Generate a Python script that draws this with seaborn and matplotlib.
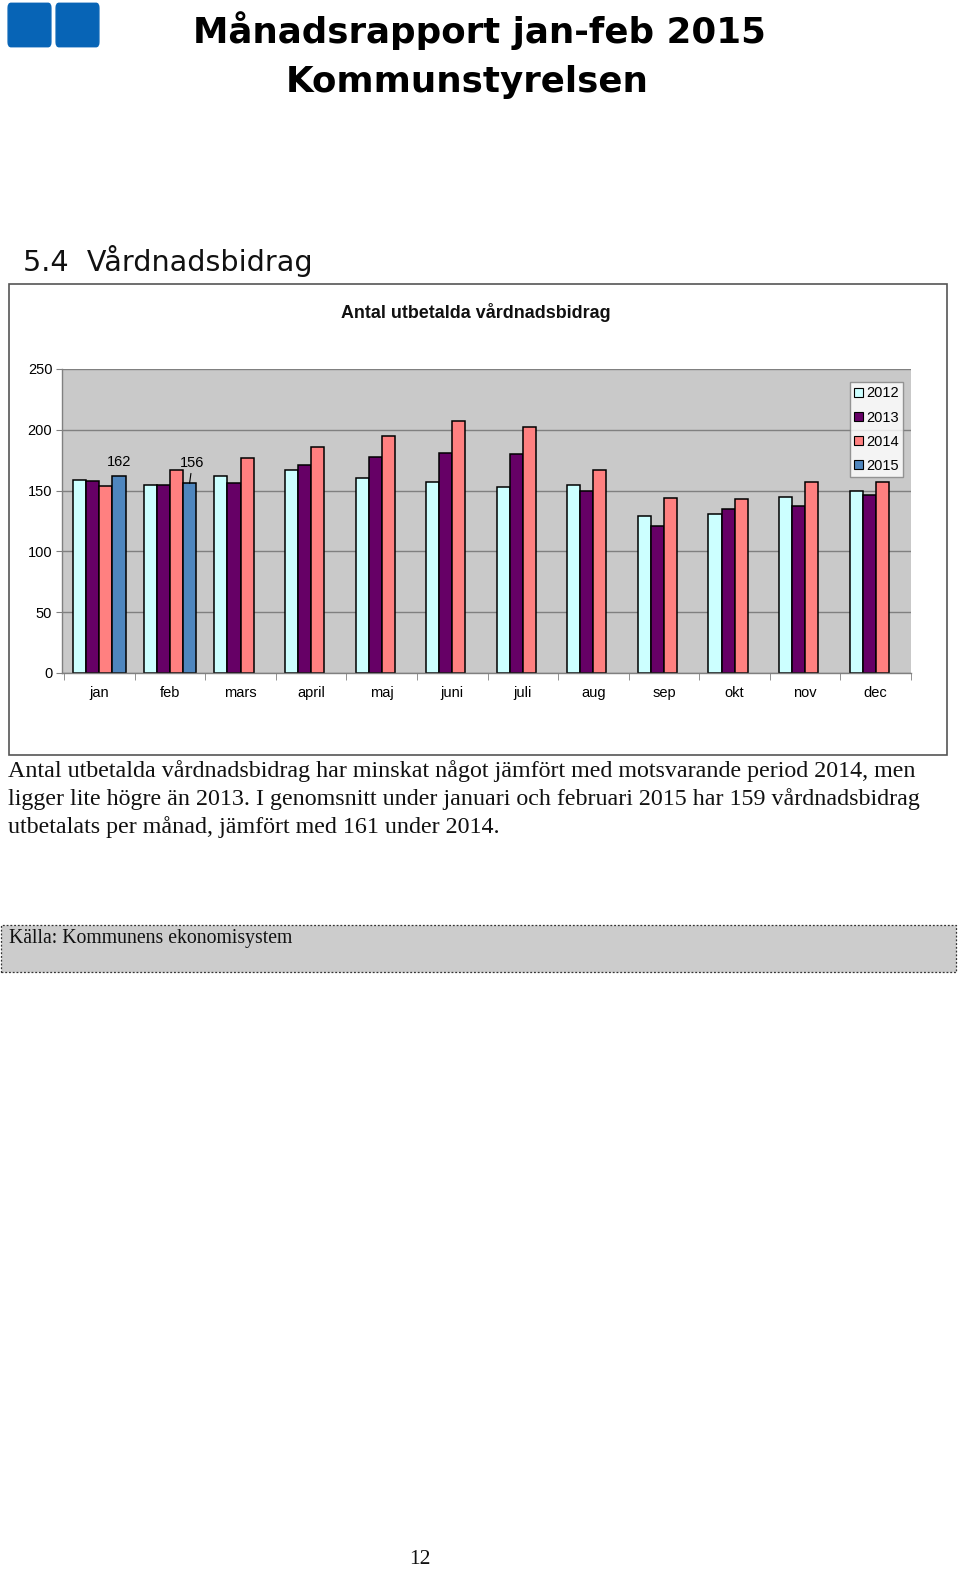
import numpy as np
import pandas as pd
import matplotlib
matplotlib.use("Agg")
import matplotlib.pyplot as plt
from matplotlib.patches import Rectangle, FancyBboxPatch, Patch
from matplotlib.ticker import FixedLocator, NullFormatter
import seaborn as sns

months = ['jan', 'feb', 'mars', 'april', 'maj', 'juni', 'juli', 'aug', 'sep', 'okt', 'nov', 'dec']
years = ['2012', '2013', '2014', '2015']
v2012 = [159, 155, 162, 167, 160, 157, 153, 155, 129, 131, 145, 150]
v2013 = [158, 155, 156, 171, 178, 181, 180, 150, 121, 135, 137, 146]
v2014 = [154, 167, 177, 186, 195, 207, 202, 167, 144, 143, 157, 157]
v2015 = [162, 156] + [np.nan] * 10
colors = ['#CCFFFF', '#660066', '#FF8080', '#4F86BE']
yticks = [0, 50, 100, 150, 200, 250]

rows = []
for yr, vals in zip(years, [v2012, v2013, v2014, v2015]):
    for m, v in zip(months, vals):
        rows.append({'month': m, 'year': yr, 'value': v})
df = pd.DataFrame(rows)

sns.set_style("white")
plt.rcParams['font.family'] = ['Liberation Sans', 'DejaVu Sans']
plt.rcParams['text.color'] = 'black'
plt.rcParams['xtick.color'] = 'black'
plt.rcParams['ytick.color'] = 'black'

W, H = 960, 1570
fig = plt.figure(figsize=(W / 100, H / 100), dpi=100)

def fx(x):
    return x / W

def fy(y):
    return 1 - y / H

# Logo
for x0 in (8, 56):
    fig.patches.append(FancyBboxPatch((fx(x0 + 3), fy(45 - 3)), fx(43 - 6), (40 - 6) / H,
                                      boxstyle="round,pad=0.003", transform=fig.transFigure,
                                      facecolor='#0764B6', edgecolor='#0764B6', lw=1))

# Titles
fig.text(fx(479), fy(31), 'Månadsrapport jan-feb 2015', ha='center', va='center',
         fontsize=25.7, fontweight='bold', family=['DejaVu Sans'], color='black')
fig.text(fx(467), fy(82), 'Kommunstyrelsen', ha='center', va='center',
         fontsize=25.7, fontweight='bold', family=['DejaVu Sans'], color='black')
fig.text(fx(23), fy(261), '5.4  Vårdnadsbidrag', ha='left', va='center',
         fontsize=20.6, family=['DejaVu Sans'], color='#111111')

# Chart frame
fig.patches.append(Rectangle((fx(9), fy(755)), fx(947 - 9), (755 - 284) / H,
                             transform=fig.transFigure, facecolor='none',
                             edgecolor='#555555', lw=1.2))
fig.text(fx(476), fy(312), 'Antal utbetalda vårdnadsbidrag', ha='center', va='center',
         fontsize=12.9, fontweight='bold', color='#111111')

ax = fig.add_axes([fx(62), fy(673), fx(911 - 62), (673 - 369) / H])
ax.set_facecolor('#C9C9C9')
sns.barplot(data=df, x='month', y='value', hue='year', hue_order=years, order=months,
            palette=colors, saturation=1, width=0.74, gap=0, edgecolor='black',
            linewidth=1.1, ax=ax, legend=False, errorbar=None)
ax.set_ylim(0, 250)
ax.set_xlim(-0.53, 11.5)
ax.set_yticks(yticks)
ax.set_yticklabels([str(t) for t in yticks], fontsize=10.5)
ax.yaxis.grid(True, color='#808080', lw=1)
ax.set_axisbelow(True)
ax.set_xlabel('')
ax.set_ylabel('')
for s in ('top', 'right'):
    ax.spines[s].set_visible(False)
for s in ('left', 'bottom'):
    ax.spines[s].set_color('#808080')
    ax.spines[s].set_linewidth(1)
ax.tick_params(axis='y', which='major', left=True, length=4, color='#808080', pad=3)
ax.tick_params(axis='x', which='major', bottom=False, labelsize=10.5, pad=6)
ax.xaxis.set_minor_locator(FixedLocator(np.arange(-0.5, 12, 1)))
ax.xaxis.set_minor_formatter(NullFormatter())
ax.tick_params(axis='x', which='minor', bottom=True, length=5, color='#808080')

# Data labels for 2015
cont = ax.containers[-1]
offsets = [((0, 10.3), False), ((2, 14.5), True)]
for bar, (off, line) in zip(cont, offsets):
    h = bar.get_height()
    if np.isnan(h):
        continue
    cx = bar.get_x() + bar.get_width() / 2
    kw = {}
    if line:
        kw['arrowprops'] = dict(arrowstyle='-', color='black', lw=0.8, shrinkA=0, shrinkB=0)
    ax.annotate(f'{int(round(h))}', xy=(cx, h), xytext=off, textcoords='offset points',
                ha='center', va='center', fontsize=10.5, **kw)

handles = [Patch(facecolor=c, edgecolor='black', lw=0.8) for c in colors]
leg = ax.legend(handles, years, loc='upper right', bbox_to_anchor=(fx(903), fy(382)),
                bbox_transform=fig.transFigure, fontsize=10.5, frameon=True, fancybox=False,
                handlelength=0.6, handleheight=0.6, handletextpad=0.2, labelspacing=0.7,
                borderpad=0.3, borderaxespad=0)
leg.get_frame().set_edgecolor('#808080')
leg.get_frame().set_linewidth(1)
leg.get_frame().set_facecolor('white')

# Paragraph text
para = ['Antal utbetalda vårdnadsbidrag har minskat något jämfört med motsvarande period 2014, men',
        'ligger lite högre än 2013. I genomsnitt under januari och februari 2015 har 159 vårdnadsbidrag',
        'utbetalats per månad, jämfört med 161 under 2014.']
for i, line in enumerate(para):
    fig.text(fx(8), fy(771 + 28 * i), line, ha='left', va='center', fontsize=17.3,
             family=['Liberation Serif'], color='#111111')

# Source box
fig.patches.append(Rectangle((fx(1), fy(972)), fx(956 - 1), (972 - 925) / H,
                             transform=fig.transFigure, facecolor='#CCCCCC',
                             edgecolor='#333333', lw=0.9, linestyle=(0, (1.5, 1.5))))
fig.text(fx(9), fy(938), 'Källa: Kommunens ekonomisystem', ha='left', va='center',
         fontsize=14.2, family=['Liberation Serif'], color='#111111')

fig.text(fx(420), fy(1560), '12', ha='center', va='center', fontsize=15.5,
         family=['Liberation Serif'], color='#111111')

fig.savefig('out.png', dpi=100)
